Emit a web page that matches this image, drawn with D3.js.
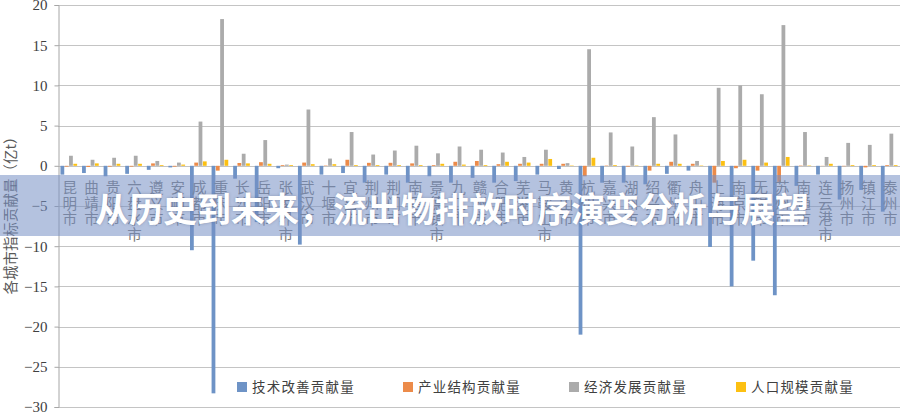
<!DOCTYPE html>
<html><head><meta charset="utf-8">
<script src="https://cdn.jsdelivr.net/npm/d3@7/dist/d3.min.js"></script>
<style>html,body{margin:0;padding:0;background:#fff;}svg{display:block;}</style>
</head><body>
<svg id="chart" width="900" height="412"></svg>
<script>
const cities = ["昆明市","曲靖市","贵阳市","六盘水市","遵义市","安顺市","成都市","重庆市","长沙市","岳阳市","张家界市","武汉市","十堰市","宜昌市","荆州市","荆门市","南昌市","景德镇市","九江市","赣州市","合肥市","芜湖市","马鞍山市","黄山市","杭州市","嘉兴市","湖州市","绍兴市","衢州市","舟山市","上海市","南京市","无锡市","苏州市","南通市","连云港市","扬州市","镇江市","泰州市"];
const techValues = [-1.1,-0.9,-1.3,-1.0,-0.5,-0.2,-10.5,-28.3,-1.6,-7.0,-0.3,-9.8,-1.1,-0.9,-2.1,-1.1,-2.1,-1.3,-2.1,-1.5,-2.1,-1.9,-1.1,-0.4,-21.0,-2.1,-2.1,-2.3,-1.0,-0.6,-10.1,-15.0,-11.8,-16.1,-2.5,-1.1,-4.2,-3.0,-5.7];
const industryValues = [-0.1,-0.15,-0.1,-0.1,0.3,-0.1,0.4,-0.6,0.35,0.45,0.1,0.4,0.05,0.75,0.37,0.37,0.3,0.1,0.5,0.6,0.2,0.25,0.25,0.25,-1.3,0.05,-0.1,-0.6,0.5,0.25,-2.1,-0.3,-0.6,-2.0,0.05,0.02,-0.05,-0.2,0.1];
const economyValues = [1.25,0.75,1.0,1.25,0.6,0.4,5.5,18.25,1.5,3.2,0.15,7.0,0.9,4.2,1.4,1.9,2.5,1.55,2.4,2.0,1.65,1.1,2.0,0.33,14.5,4.15,2.4,6.05,3.9,0.6,9.7,10.0,8.9,17.5,4.2,1.1,2.85,2.6,4.0];
const populationValues = [0.25,0.3,0.25,0.25,0.1,0.15,0.55,0.75,0.3,0.25,0.1,0.2,0.2,0.1,0.1,0.1,0.1,0.25,0.15,0.1,0.5,0.4,0.85,0.05,1.0,0.1,0.05,0.25,0.25,0.05,0.6,0.75,0.4,1.1,0.05,0.25,0.1,0.1,0.1];
const seriesNames = ["技术改善贡献量","产业结构贡献量","经济发展贡献量","人口规模贡献量"];
const seriesColors = ["#6e93c6","#ec8b4a","#ababab","#fcc012"];
const yTicks = [20,15,10,5,0,-5,-10,-15,-20,-25,-30];
const yLabel = "各城市指标贡献量（亿t）";
const title = "从历史到未来，流出物排放时序演变分析与展望";

(function(){
const seriesData = [techValues, industryValues, economyValues, populationValues];
const svg = d3.select("#chart");
const pLeft = 58, pRight = 900, pTop = 5, pBottom = 407;

const x0 = d3.scaleBand().domain(cities).range([pLeft, pRight]).paddingInner(0.18).paddingOuter(0.09);
const x1 = d3.scaleBand().domain(d3.range(4)).range([0, x0.bandwidth()]).padding(0.12);
const y = d3.scaleLinear().domain([-30, 20]).range([pBottom, pTop]);

// gridlines
svg.append("g").selectAll("line").data(yTicks).join("line")
  .attr("x1", pLeft).attr("x2", pRight)
  .attr("y1", d => Math.round(y(d)) + 0.5).attr("y2", d => Math.round(y(d)) + 0.5)
  .attr("stroke", "#c4c4c4").attr("stroke-width", 1);

// y axis
const yAxis = d3.axisLeft(y).tickValues(yTicks).tickSize(4).tickPadding(7)
  .tickFormat(d => d < 0 ? "\u2212" + Math.abs(d) : String(d));
const ga = svg.append("g").attr("transform", `translate(${pLeft + 0.5},0)`).call(yAxis);
ga.select(".domain").attr("stroke", "#a6a6a6");
ga.selectAll(".tick line").attr("stroke", "#a6a6a6");
ga.selectAll(".tick text").attr("font-family", "'Liberation Serif', serif").attr("font-size", 15).attr("fill", "#404040");

// bars
const groups = svg.append("g").selectAll("g").data(cities).join("g")
  .attr("transform", d => `translate(${x0(d)},0)`);
groups.selectAll("rect").data((c, i) => seriesData.map((s, k) => ({k, v: s[i]}))).join("rect")
  .attr("x", d => x1(d.k))
  .attr("width", x1.bandwidth())
  .attr("y", d => y(Math.max(0, d.v)))
  .attr("height", d => Math.abs(y(d.v) - y(0)))
  .attr("fill", d => seriesColors[d.k]);

// category labels (vertical stacked characters)
const lab = svg.append("g").selectAll("text").data(cities).join("text")
  .attr("font-family", "'Noto Sans CJK SC', sans-serif")
  .attr("font-size", 14.5).attr("fill", "#7a7a7a").attr("text-anchor", "middle");
lab.each(function(d) {
  const t = d3.select(this);
  const cx = x0(d) + x0.bandwidth() / 2 + 1;
  Array.from(d).forEach((ch, j) => {
    t.append("tspan").attr("x", cx).attr("y", 193 + j * 15.5).text(ch);
  });
});

// y label
svg.append("text")
  .attr("transform", "translate(16,212) rotate(-90)")
  .attr("text-anchor", "middle")
  .attr("font-family", "'Noto Sans CJK SC', sans-serif")
  .attr("font-size", 14.5).attr("fill", "#595959")
  .text(yLabel);

// legend
const legendX = [237, 403, 569, 736];
const lg = svg.append("g").selectAll("g").data(seriesNames).join("g")
  .attr("transform", (d, i) => `translate(${legendX[i]},382)`);
lg.append("rect").attr("width", 10).attr("height", 10).attr("fill", (d, i) => seriesColors[i]);
lg.append("text").attr("x", 15).attr("y", 10)
  .attr("font-family", "'Noto Sans CJK SC', sans-serif")
  .attr("font-size", 13.5).attr("letter-spacing", 1.2).attr("fill", "#404040")
  .text(d => d);

// banner overlay
svg.append("rect").attr("x", 0).attr("y", 175).attr("width", 900).attr("height", 61)
  .attr("fill", "rgb(118,144,196)").attr("fill-opacity", 0.55);
svg.append("text")
  .attr("x", 452).attr("y", 222)
  .attr("text-anchor", "middle")
  .attr("font-family", "'Noto Sans CJK SC', sans-serif")
  .attr("font-weight", 700).attr("font-size", 34).attr("fill", "#ffffff")
  .style("text-shadow", "0 0 3px rgba(60,70,100,0.35)")
  .text(title);
})();
</script>
</body></html>
